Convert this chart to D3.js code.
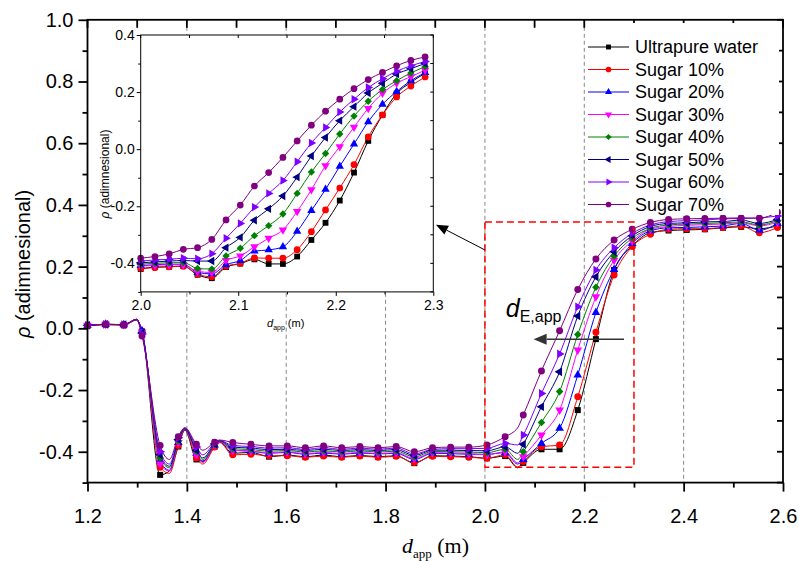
<!DOCTYPE html>
<html><head><meta charset="utf-8">
<script src="https://cdn.jsdelivr.net/npm/d3@7"></script>
<style>body{margin:0;background:#fff} svg{display:block}</style>
</head><body>
<svg id="c" width="799" height="561"></svg>
<script>
// ---------- DATA ----------
const seriesNames = ["Ultrapure water","Sugar 10%","Sugar 20%","Sugar 30%","Sugar 40%","Sugar 50%","Sugar 60%","Sugar 70%"];
const seriesColors = ["#000000","#ff0000","#0000ff","#ff00ff","#008000","#000080","#8000ff","#800080"];
const seriesSymbols = ["square","circle","triangleUp","triangleDown","diamond","triangleLeft","triangleRight","circle"];

// main chart: marker positions (m)
const mainX = [1.2000,1.2366,1.2731,1.3097,1.3462,1.3828,1.4193,1.4559,1.4924,1.5290,1.5655,1.6021,1.6386,1.6752,1.7117,1.7483,1.7848,1.8214,1.8579,1.8945,1.9310,1.9676,2.0041,2.0407,2.0772,2.1138,2.1503,2.1869,2.2234,2.2600,2.2965,2.3331,2.3696,2.4062,2.4427,2.4793,2.5158,2.5524,2.5889];
const waterMain   = [0.008,0.012,0.011,-0.010,-0.475,-0.383,-0.425,-0.383,-0.405,-0.402,-0.416,-0.411,-0.416,-0.411,-0.416,-0.412,-0.416,-0.413,-0.437,-0.413,-0.414,-0.416,-0.421,-0.414,-0.436,-0.392,-0.392,-0.265,-0.035,0.189,0.267,0.310,0.317,0.319,0.321,0.326,0.329,0.323,0.332];
const sugar10Main = [0.008,0.012,0.011,-0.012,-0.450,-0.380,-0.420,-0.385,-0.410,-0.408,-0.413,-0.413,-0.418,-0.414,-0.418,-0.414,-0.418,-0.415,-0.435,-0.415,-0.416,-0.418,-0.421,-0.410,-0.432,-0.384,-0.378,-0.222,-0.013,0.173,0.265,0.305,0.321,0.323,0.323,0.327,0.332,0.310,0.327];
const sugar20Main = [0.010,0.013,0.012,-0.008,-0.430,-0.370,-0.405,-0.378,-0.395,-0.398,-0.405,-0.402,-0.408,-0.404,-0.408,-0.404,-0.407,-0.405,-0.425,-0.405,-0.406,-0.408,-0.408,-0.403,-0.425,-0.373,-0.324,-0.151,0.051,0.191,0.275,0.316,0.326,0.327,0.329,0.332,0.340,0.318,0.340];
const sugar30Main = [0.010,0.013,0.012,-0.012,-0.440,-0.370,-0.410,-0.380,-0.395,-0.398,-0.403,-0.400,-0.406,-0.402,-0.406,-0.402,-0.406,-0.403,-0.422,-0.403,-0.404,-0.406,-0.410,-0.400,-0.416,-0.346,-0.265,-0.070,0.102,0.221,0.283,0.321,0.330,0.334,0.336,0.338,0.342,0.332,0.344];
const sugar40Main = [0.010,0.013,0.012,-0.015,-0.420,-0.365,-0.400,-0.378,-0.390,-0.393,-0.398,-0.396,-0.401,-0.397,-0.401,-0.397,-0.401,-0.398,-0.417,-0.399,-0.400,-0.401,-0.403,-0.392,-0.400,-0.305,-0.205,-0.020,0.133,0.234,0.292,0.324,0.335,0.338,0.340,0.342,0.345,0.335,0.349];
const sugar50Main = [0.010,0.013,0.012,-0.015,-0.410,-0.360,-0.395,-0.375,-0.385,-0.388,-0.393,-0.392,-0.396,-0.392,-0.396,-0.393,-0.396,-0.393,-0.412,-0.395,-0.395,-0.396,-0.397,-0.384,-0.376,-0.254,-0.141,0.040,0.167,0.248,0.300,0.330,0.340,0.342,0.345,0.346,0.351,0.340,0.353];
const sugar60Main = [0.010,0.013,0.012,-0.018,-0.400,-0.355,-0.385,-0.372,-0.380,-0.383,-0.388,-0.387,-0.392,-0.387,-0.392,-0.388,-0.392,-0.388,-0.407,-0.392,-0.390,-0.390,-0.389,-0.373,-0.346,-0.211,-0.083,0.070,0.189,0.261,0.308,0.335,0.346,0.349,0.351,0.355,0.356,0.358,0.364];
const sugar70Main = [0.008,0.013,0.011,-0.025,-0.380,-0.351,-0.376,-0.369,-0.370,-0.376,-0.381,-0.381,-0.387,-0.381,-0.387,-0.383,-0.387,-0.383,-0.400,-0.387,-0.385,-0.385,-0.378,-0.351,-0.281,-0.138,-0.008,0.126,0.225,0.286,0.321,0.343,0.353,0.355,0.356,0.357,0.358,0.357,0.376];

// main chart: extra curve points between markers (peaks / dips, no marker)
const extraX = [1.299,1.365,1.396,1.432,1.466,2.066];
const waterExtra   = [0.027,-0.462,-0.330,-0.430,-0.368,-0.452];
const sugar10Extra = [0.027,-0.470,-0.330,-0.440,-0.370,-0.450];
const sugar20Extra = [0.028,-0.460,-0.328,-0.432,-0.366,-0.440];
const sugar30Extra = [0.028,-0.462,-0.328,-0.435,-0.367,-0.436];
const sugar40Extra = [0.028,-0.452,-0.326,-0.425,-0.365,-0.425];
const sugar50Extra = [0.029,-0.447,-0.325,-0.420,-0.364,-0.405];
const sugar60Extra = [0.029,-0.440,-0.323,-0.410,-0.363,-0.378];
const sugar70Extra = [0.030,-0.425,-0.322,-0.395,-0.362,-0.322];

// inset chart
const insetX = [2.0000,2.0146,2.0292,2.0437,2.0583,2.0729,2.0875,2.1021,2.1166,2.1312,2.1458,2.1604,2.1750,2.1895,2.2041,2.2187,2.2333,2.2479,2.2624,2.2770,2.2916];
const waterInset   = [-0.420,-0.413,-0.412,-0.410,-0.440,-0.452,-0.413,-0.401,-0.386,-0.402,-0.402,-0.376,-0.318,-0.258,-0.180,-0.082,0.029,0.120,0.195,0.234,0.266];
const sugar10Inset = [-0.418,-0.415,-0.412,-0.410,-0.438,-0.447,-0.410,-0.400,-0.381,-0.382,-0.382,-0.352,-0.289,-0.213,-0.136,-0.054,0.043,0.120,0.183,0.221,0.253];
const sugar20Inset = [-0.408,-0.405,-0.403,-0.403,-0.432,-0.437,-0.405,-0.390,-0.357,-0.353,-0.342,-0.288,-0.215,-0.141,-0.060,0.018,0.096,0.157,0.202,0.240,0.268];
const sugar30Inset = [-0.410,-0.407,-0.405,-0.405,-0.428,-0.432,-0.390,-0.374,-0.342,-0.312,-0.283,-0.218,-0.142,-0.058,0.009,0.077,0.143,0.196,0.231,0.254,0.277];
const sugar40Inset = [-0.403,-0.400,-0.398,-0.397,-0.418,-0.420,-0.374,-0.347,-0.303,-0.268,-0.227,-0.155,-0.080,-0.015,0.053,0.116,0.168,0.209,0.240,0.267,0.289];
const sugar50Inset = [-0.398,-0.395,-0.392,-0.390,-0.392,-0.392,-0.345,-0.309,-0.249,-0.209,-0.164,-0.098,-0.024,0.041,0.100,0.149,0.197,0.231,0.263,0.282,0.300];
const sugar60Inset = [-0.392,-0.388,-0.386,-0.382,-0.384,-0.366,-0.312,-0.260,-0.203,-0.155,-0.110,-0.044,0.022,0.076,0.130,0.175,0.216,0.247,0.273,0.292,0.307];
const sugar70Inset = [-0.382,-0.376,-0.367,-0.351,-0.345,-0.316,-0.248,-0.196,-0.129,-0.082,-0.029,0.029,0.084,0.133,0.175,0.212,0.244,0.269,0.292,0.311,0.323];

// ticks
const mainXTicks = [1.2,1.4,1.6,1.8,2.0,2.2,2.4,2.6];
const mainXMinor = [1.3,1.5,1.7,1.9,2.1,2.3,2.5];
const mainYTicks = [-0.4,-0.2,0.0,0.2,0.4,0.6,0.8,1.0];
const mainYMinor = [-0.5,-0.3,-0.1,0.1,0.3,0.5,0.7,0.9];
const gridX = [1.4,1.6,1.8,2.0,2.2,2.4];
const insetXTicks = [2.0,2.1,2.2,2.3];
const insetXMinor = [2.05,2.15,2.25];
const insetYTicks = [-0.4,-0.2,0.0,0.2,0.4];
const insetYMinor = [-0.5,-0.3,-0.1,0.1,0.3];

// annotations (data units)
const zoomBox = {x0:2.0, x1:2.3, y0:-0.45, y1:0.345};
const insetArrow = {from:[2.0,0.254], to:[1.9015,0.336]};
const dArrow = {from:[2.28,-0.035], to:[2.098,-0.035]};
const dLabel = [2.042,0.036];

const mainSeries = [waterMain,sugar10Main,sugar20Main,sugar30Main,sugar40Main,sugar50Main,sugar60Main,sugar70Main];
const extraSeries = [waterExtra,sugar10Extra,sugar20Extra,sugar30Extra,sugar40Extra,sugar50Extra,sugar60Extra,sugar70Extra];
const insetSeries = [waterInset,sugar10Inset,sugar20Inset,sugar30Inset,sugar40Inset,sugar50Inset,sugar60Inset,sugar70Inset];

// ---------- DRAW ----------
const svg = d3.select("#c");
const SANS = "'Liberation Sans', Arial, sans-serif";
const SERIF = "'Liberation Serif', 'Times New Roman', serif";

const xM = d3.scaleLinear().domain([1.2,2.6]).range([87.5,783]);
const yM = d3.scaleLinear().domain([-0.5,1.0]).range([482.6,19.8]);

svg.append("rect").attr("width",799).attr("height",561).attr("fill","#fff");

function symbolPath(type, size){
  const m = {square:[d3.symbolSquare,0,1], circle:[d3.symbolCircle,0,1.05], triangleUp:[d3.symbolTriangle,0,0.9],
    triangleDown:[d3.symbolTriangle,180,0.9], triangleLeft:[d3.symbolTriangle,-90,0.9], triangleRight:[d3.symbolTriangle,90,0.9],
    diamond:[d3.symbolSquare,45,0.8]}[type];
  return {d: d3.symbol().type(m[0]).size(size*m[2])(), rot: m[1]};
}

// gridlines
svg.append("g").selectAll("line").data(gridX).join("line")
  .attr("x1",d=>xM(d)).attr("x2",d=>xM(d)).attr("y1",yM(1.0)).attr("y2",yM(-0.5))
  .attr("stroke","#888").attr("stroke-width",1).attr("stroke-dasharray","4,3");

// main curves
const lineM = d3.line().x(d=>xM(d[0])).y(d=>yM(d[1])).curve(d3.curveMonotoneX);
const gMain = svg.append("g");
mainSeries.forEach((vals,s)=>{
  const pts = mainX.map((x,i)=>[x,vals[i]]).concat(extraX.map((x,i)=>[x,extraSeries[s][i]])).sort((a,b)=>a[0]-b[0]);
  gMain.append("path").attr("d",lineM(pts)).attr("fill","none").attr("stroke",seriesColors[s]).attr("stroke-width",1);
});
mainSeries.forEach((vals,s)=>{
  const sp = symbolPath(seriesSymbols[s],36);
  gMain.append("g").selectAll("path").data(mainX.map((x,i)=>[x,vals[i]])).join("path")
    .attr("d",sp.d).attr("transform",d=>`translate(${xM(d[0])},${yM(d[1])}) rotate(${sp.rot})`)
    .attr("fill",seriesColors[s]);
});

// zoom box
svg.append("rect").attr("x",xM(zoomBox.x0)).attr("y",yM(zoomBox.y1))
  .attr("width",xM(zoomBox.x1)-xM(zoomBox.x0)).attr("height",yM(zoomBox.y0)-yM(zoomBox.y1))
  .attr("fill","none").attr("stroke","#ff0000").attr("stroke-width",1.5).attr("stroke-dasharray","7,4");

// axes frame
const axG = svg.append("g").attr("stroke","#000").attr("stroke-width",1.8).attr("fill","none");
axG.append("rect").attr("x",xM(1.2)).attr("y",yM(1.0)).attr("width",xM(2.6)-xM(1.2)).attr("height",yM(-0.5)-yM(1.0));

const axBottom = svg.append("g").attr("transform",`translate(0,${yM(-0.5)})`)
  .call(d3.axisBottom(xM).tickValues(mainXTicks).tickSize(9).tickFormat(d3.format(".1f")));
axBottom.select(".domain").remove();
axBottom.selectAll("line").attr("stroke-width",1.8);
axBottom.selectAll("text").attr("y",26).attr("font-size",20).attr("font-family",SANS).attr("fill","#000");
const axBottomMinor = svg.append("g").attr("transform",`translate(0,${yM(-0.5)})`)
  .call(d3.axisBottom(xM).tickValues(mainXMinor).tickSize(5).tickFormat(""));
axBottomMinor.select(".domain").remove(); axBottomMinor.selectAll("line").attr("stroke-width",1.8);

const axLeft = svg.append("g").attr("transform",`translate(${xM(1.2)},0)`)
  .call(d3.axisLeft(yM).tickValues(mainYTicks).tickSize(9).tickFormat(d3.format(".1f")));
axLeft.select(".domain").remove();
axLeft.selectAll("line").attr("stroke-width",1.8);
axLeft.selectAll("text").attr("x",-14).attr("font-size",20).attr("font-family",SANS).attr("fill","#000")
  .text(d=>d3.format(".1f")(d).replace("−","-"));
const axLeftMinor = svg.append("g").attr("transform",`translate(${xM(1.2)},0)`)
  .call(d3.axisLeft(yM).tickValues(mainYMinor).tickSize(5).tickFormat(""));
axLeftMinor.select(".domain").remove(); axLeftMinor.selectAll("line").attr("stroke-width",1.8);

// top & right inward ticks
const topTicks = mainXTicks.concat(mainXMinor);
svg.append("g").selectAll("line").data(topTicks).join("line")
  .attr("x1",d=>xM(d)).attr("x2",d=>xM(d)).attr("y1",yM(1.0)).attr("y2",yM(1.0)+8)
  .attr("stroke","#000").attr("stroke-width",1.8);
const rightTicks = mainYTicks.concat(mainYMinor);
svg.append("g").selectAll("line").data(rightTicks).join("line")
  .attr("x1",xM(2.6)).attr("x2",xM(2.6)-6).attr("y1",d=>yM(d)).attr("y2",d=>yM(d))
  .attr("stroke","#000").attr("stroke-width",1.8);

// axis titles
const xt = svg.append("text").attr("x",402).attr("y",553).attr("font-family",SERIF).attr("font-size",22).attr("fill","#000");
xt.append("tspan").attr("font-style","italic").text("d");
xt.append("tspan").attr("font-size",13).attr("dy",5).text("app");
xt.append("tspan").attr("dy",-5).text(" (m)");

const yt = svg.append("text").attr("transform","translate(30,264) rotate(-90)").attr("text-anchor","middle")
  .attr("font-family",SANS).attr("font-size",20).attr("fill","#000");
yt.append("tspan").attr("font-style","italic").text("ρ");
yt.append("tspan").text(" (adimnesional)");

// ---------- INSET ----------
const xI = d3.scaleLinear().domain([2.0,2.3]).range([140.7,433.3]);
const yI = d3.scaleLinear().domain([-0.5,0.4]).range([291.9,35]);
svg.append("rect").attr("x",xI(2.0)).attr("y",yI(0.4)).attr("width",xI(2.3)-xI(2.0)).attr("height",yI(-0.5)-yI(0.4))
  .attr("fill","#fff");

const lineI = d3.line().x(d=>xI(d[0])).y(d=>yI(d[1])).curve(d3.curveMonotoneX);
const gIn = svg.append("g");
insetSeries.forEach((vals,s)=>{
  const pts = insetX.map((x,i)=>[x,vals[i]]);
  gIn.append("path").attr("d",lineI(pts)).attr("fill","none").attr("stroke",seriesColors[s]).attr("stroke-width",1);
});
insetSeries.forEach((vals,s)=>{
  const sp = symbolPath(seriesSymbols[s],34);
  gIn.append("g").selectAll("path").data(insetX.map((x,i)=>[x,vals[i]])).join("path")
    .attr("d",sp.d).attr("transform",d=>`translate(${xI(d[0])},${yI(d[1])}) rotate(${sp.rot})`)
    .attr("fill",seriesColors[s]);
});
svg.append("rect").attr("x",xI(2.0)).attr("y",yI(0.4)).attr("width",xI(2.3)-xI(2.0)).attr("height",yI(-0.5)-yI(0.4))
  .attr("fill","none").attr("stroke","#000").attr("stroke-width",1);

const iB = svg.append("g").attr("transform",`translate(0,${yI(-0.5)})`)
  .call(d3.axisBottom(xI).tickValues(insetXTicks).tickSize(4).tickFormat(d3.format(".1f")));
iB.select(".domain").remove();
iB.selectAll("text").attr("y",8.5).attr("font-size",14).attr("font-family",SANS).attr("fill","#000");
const iBm = svg.append("g").attr("transform",`translate(0,${yI(-0.5)})`)
  .call(d3.axisBottom(xI).tickValues(insetXMinor).tickSize(2.5).tickFormat(""));
iBm.select(".domain").remove();
const iL = svg.append("g").attr("transform",`translate(${xI(2.0)},0)`)
  .call(d3.axisLeft(yI).tickValues(insetYTicks).tickSize(4).tickFormat(d3.format(".1f")));
iL.select(".domain").remove();
iL.selectAll("text").attr("x",-6).attr("font-size",14).attr("font-family",SANS).attr("fill","#000")
  .text(d=>d3.format(".1f")(d).replace("−","-"));
const iLm = svg.append("g").attr("transform",`translate(${xI(2.0)},0)`)
  .call(d3.axisLeft(yI).tickValues(insetYMinor).tickSize(2.5).tickFormat(""));
iLm.select(".domain").remove();
svg.append("g").selectAll("line").data(insetYTicks.concat(insetYMinor)).join("line")
  .attr("x1",xI(2.3)).attr("x2",xI(2.3)-3).attr("y1",d=>yI(d)).attr("y2",d=>yI(d)).attr("stroke","#000");
svg.append("g").selectAll("line").data(insetXTicks.concat(insetXMinor)).join("line")
  .attr("x1",d=>xI(d)).attr("x2",d=>xI(d)).attr("y1",yI(0.4)).attr("y2",yI(0.4)+3).attr("stroke","#000");

const ixt = svg.append("text").attr("x",267).attr("y",327).attr("font-family",SANS).attr("font-size",11).attr("fill","#000");
ixt.append("tspan").attr("font-style","italic").text("d");
ixt.append("tspan").attr("font-size",7).attr("dy",3).text("app");
ixt.append("tspan").attr("dy",-3).text(" (m)");
const iyt = svg.append("text").attr("transform","translate(109,174) rotate(-90)").attr("text-anchor","middle")
  .attr("font-family",SANS).attr("font-size",12).attr("fill","#000");
iyt.append("tspan").attr("font-style","italic").text("ρ");
iyt.append("tspan").text(" (adimnesional)");

// ---------- LEGEND ----------
svg.append("rect").attr("x",587).attr("y",23).attr("width",192).attr("height",192).attr("fill","#fff");
const leg = svg.append("g");
seriesNames.forEach((n,s)=>{
  const y = 47 + s*22.5;
  leg.append("line").attr("x1",588).attr("x2",629).attr("y1",y).attr("y2",y).attr("stroke",seriesColors[s]).attr("stroke-width",1);
  const sp = symbolPath(seriesSymbols[s],24);
  leg.append("path").attr("d",sp.d).attr("transform",`translate(608.5,${y}) rotate(${sp.rot})`).attr("fill",seriesColors[s]);
  leg.append("text").attr("x",635).attr("y",y).attr("dy","0.35em").attr("font-family",SANS).attr("font-size",18).attr("fill","#000").text(n);
});

// ---------- ANNOTATIONS ----------
function arrow(from,to,color,w,len,half){
  const x1=xM(from[0]),y1=yM(from[1]),x2=xM(to[0]),y2=yM(to[1]);
  const ang=Math.atan2(y2-y1,x2-x1);
  const bx=x2-len*Math.cos(ang), by=y2-len*Math.sin(ang);
  svg.append("line").attr("x1",x1).attr("y1",y1).attr("x2",bx).attr("y2",by).attr("stroke",color).attr("stroke-width",w);
  const px=-Math.sin(ang)*half, py=Math.cos(ang)*half;
  svg.append("path").attr("d",`M${x2},${y2}L${bx+px},${by+py}L${bx-px},${by-py}Z`).attr("fill",color);
}
arrow(insetArrow.from,insetArrow.to,"#000",1,12,5);
arrow(dArrow.from,dArrow.to,"#333",1.5,13,5.5);
const dl = svg.append("text").attr("x",xM(dLabel[0])).attr("y",yM(dLabel[1])).attr("font-family",SANS).attr("font-size",25).attr("fill","#000");
dl.append("tspan").attr("font-style","italic").text("d");
dl.append("tspan").attr("font-size",16).attr("dy",5).text("E,app");
</script>
</body></html>
